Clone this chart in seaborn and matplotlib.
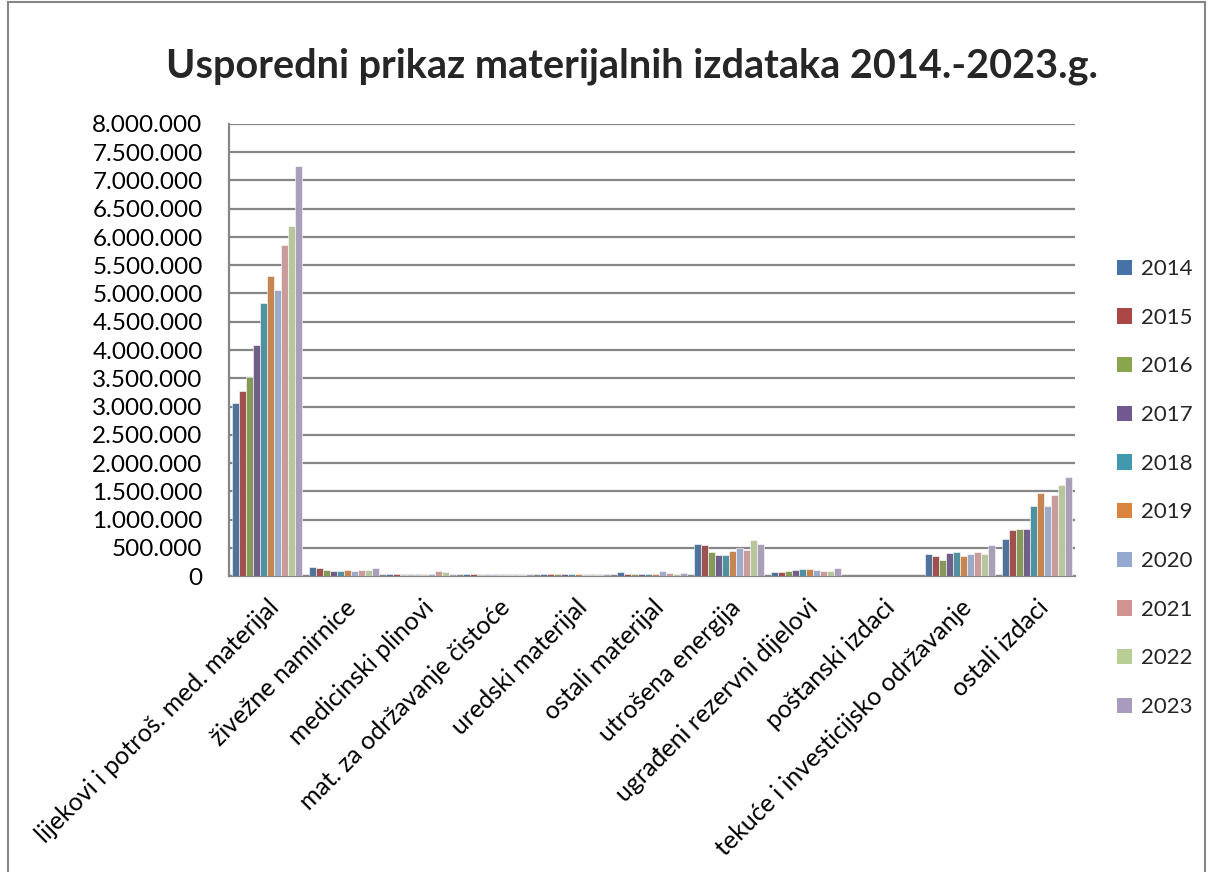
import matplotlib
matplotlib.use("Agg")
import matplotlib.pyplot as plt
import matplotlib.ticker as mticker
from matplotlib.patches import Rectangle
import seaborn as sns
import pandas as pd

categories = [
    "lijekovi i potroš. med. materijal",
    "živežne namirnice",
    "medicinski plinovi",
    "mat. za održavanje čistoće",
    "uredski materijal",
    "ostali materijal",
    "utrošena energija",
    "ugrađeni rezervni dijelovi",
    "poštanski izdaci",
    "tekuće i investicijsko održavanje",
    "ostali izdaci",
]
years = ["2014", "2015", "2016", "2017", "2018", "2019", "2020", "2021", "2022", "2023"]

v2014 = [3060000, 168000, 27000, 30000, 27000, 62000, 570000, 67000, 8000, 393000, 655000]
v2015 = [3270000, 145000, 27000, 28000, 39000, 44000, 545000, 74000, 7000, 350000, 809000]
v2016 = [3530000, 103000, 10000, 26000, 27000, 27000, 421000, 92000, 6000, 292000, 826000]
v2017 = [4080000, 85000, 10000, 22000, 27000, 27000, 380000, 110000, 6000, 403000, 826000]
v2018 = [4830000, 97000, 22000, 20000, 39000, 39000, 363000, 120000, 5000, 428000, 1233000]
v2019 = [5310000, 110000, 22000, 18000, 27000, 27000, 434000, 127000, 5000, 357000, 1464000]
v2020 = [5060000, 97000, 39000, 20000, 22000, 80000, 492000, 110000, 5000, 393000, 1246000]
v2021 = [5860000, 110000, 92000, 22000, 18000, 57000, 457000, 92000, 5000, 416000, 1434000]
v2022 = [6190000, 115000, 62000, 25000, 22000, 33000, 634000, 97000, 5000, 386000, 1618000]
v2023 = [7260000, 150000, 39000, 30000, 39000, 57000, 558000, 138000, 5000, 545000, 1747000]

series = [v2014, v2015, v2016, v2017, v2018, v2019, v2020, v2021, v2022, v2023]
colors = ["#4572A7", "#AA4643", "#89A54E", "#71588F", "#4198AF",
          "#DB843D", "#93A9CF", "#D19392", "#B9CD96", "#A99BBD"]

rows = []
for y, vals in zip(years, series):
    for c, v in zip(categories, vals):
        rows.append({"kategorija": c, "godina": y, "iznos": v})
df = pd.DataFrame(rows)

sns.set_theme(style="white")
plt.rcParams["font.family"] = ["Lato", "DejaVu Sans"]

fig = plt.figure(figsize=(12.08, 8.72), dpi=100)
ax = fig.add_axes([229 / 1208, 1 - 576 / 872, (1075 - 229) / 1208, (576 - 124) / 872])

sns.barplot(data=df, x="kategorija", y="iznos", hue="godina", order=categories,
            hue_order=years, palette=colors, width=0.91, ax=ax,
            edgecolor="white", linewidth=0.4, errorbar=None, zorder=3)

ax.set_ylim(0, 8000000)
ax.set_xlim(-0.5, len(categories) - 0.5)
ax.yaxis.set_major_locator(mticker.MultipleLocator(500000))
ax.yaxis.set_major_formatter(mticker.FuncFormatter(lambda v, p: f"{int(v):,}".replace(",", ".")))
ax.grid(axis="y", color="#868686", linewidth=1.6, zorder=0)
ax.set_axisbelow(True)
for s in ["top", "right"]:
    ax.spines[s].set_visible(False)
for s in ["left", "bottom"]:
    ax.spines[s].set_color("#868686")
    ax.spines[s].set_linewidth(1.6)
ax.tick_params(axis="y", length=4, color="#868686", width=1.2, labelsize=17.5, pad=15, labelcolor="black")
ax.tick_params(axis="x", length=0, labelsize=18, pad=14, labelcolor="black")
plt.setp(ax.get_xticklabels(), rotation=45, ha="right", rotation_mode="anchor")
ax.set_xlabel("")
ax.set_ylabel("")

ax.get_legend().remove()
handles = [Rectangle((0, 0), 1, 1, facecolor=c, edgecolor="none") for c in colors]
fig.legend(handles, years, loc="upper left", bbox_to_anchor=(1097 / 1208, 1 - 239 / 872),
           bbox_transform=fig.transFigure, frameon=False, fontsize=16,
           handlelength=0.68, handleheight=0.68, handletextpad=0.4, labelspacing=1.29)

fig.suptitle("Usporedni prikaz materijalnih izdataka 2014.-2023.g.", x=632 / 1208,
             y=1 - 66 / 872, va="center", fontsize=28.5, fontweight="bold")

fig.patches.append(Rectangle((8 / 1208, -0.01), (1205 - 8) / 1208, 1.01 - 2 / 872,
                             transform=fig.transFigure, fill=False,
                             edgecolor="#868686", linewidth=1.5))

fig.savefig("out.png", dpi=100)
